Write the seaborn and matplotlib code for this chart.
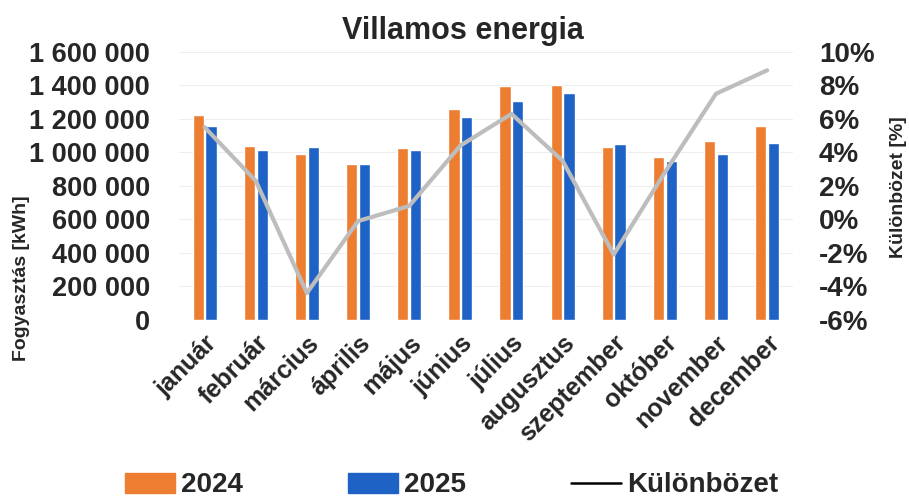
import numpy as np
import pandas as pd
import seaborn as sns
import matplotlib.pyplot as plt
from matplotlib.patches import Patch
from matplotlib.lines import Line2D
from matplotlib.ticker import FuncFormatter

# monthly consumption, kWh
months = ["január", "február", "március", "április", "május", "június",
          "július", "augusztus", "szeptember", "október", "november", "december"]
kwh_2024 = [1225000, 1040000, 990000, 930000, 1025000, 1260000,
            1395000, 1405000, 1030000, 975000, 1070000, 1160000]
kwh_2025 = [1155000, 1015000, 1035000, 930000, 1015000, 1210000,
            1305000, 1355000, 1050000, 950000, 990000, 1058000]
# difference line, %
diff_pct = [5.5, 2.3, -4.4, -0.1, 0.8, 4.4, 6.3, 3.5, -2.1, 2.8, 7.5, 8.9]

orange = "#ED7D31"
blue = "#1F62C6"
gray = "#BDBDBD"

sns.set_theme(style="white")
plt.rcParams['font.family'] = ['Liberation Sans', 'DejaVu Sans']

df = pd.DataFrame({
    "honap": months * 2,
    "kwh": kwh_2024 + kwh_2025,
    "ev": ["2024"] * 12 + ["2025"] * 12,
})

fig = plt.figure(figsize=(9.09, 4.99), dpi=100)
ax = fig.add_axes([0.197, 0.359, 0.675, 0.537])

sns.barplot(data=df, x="honap", y="kwh", hue="ev", palette=[orange, blue],
            width=0.5, gap=0.12, ax=ax, legend=False, saturation=1)
ax.set_ylim(0, 1600000)
ax.set_yticks(np.arange(0, 1600001, 200000))
ax.yaxis.set_major_formatter(FuncFormatter(lambda v, p: f"{int(v):,}".replace(",", " ")))
ax.grid(axis="y", color="#eeeeee", lw=0.8)
ax.set_axisbelow(True)
for s in ax.spines.values():
    s.set_visible(False)
ax.set_xlabel("")
ax.set_ylabel("")
ax.tick_params(axis="y", labelsize=19.5, pad=21, length=0)
ax.tick_params(axis="x", length=0, pad=8)
ax.set_xticks(range(len(months)))
ax.set_xticklabels(months, rotation=45, ha="right", rotation_mode="anchor",
                   fontsize=18, fontweight="bold")
for t in ax.get_yticklabels():
    t.set_fontweight("bold")

ax2 = ax.twinx()
sns.lineplot(x=np.arange(len(months)), y=diff_pct, color=gray, lw=3, ax=ax2, sort=False)
ax2.set_ylim(-6, 10)
ax2.set_yticks(np.arange(-6, 11, 2))
ax2.yaxis.set_major_formatter(FuncFormatter(lambda v, p: f"{int(v)}%"))
ax2.tick_params(axis="y", labelsize=20, pad=19, length=0)
for t in ax2.get_yticklabels():
    t.set_fontweight("bold")
ax2.set_ylabel("")
ax2.grid(False)
for s in ax2.spines.values():
    s.set_visible(False)
ax.set_xlim(-0.5, 11.5)

fig.text(0.509, 0.938, "Villamos energia", ha="center", va="center",
         fontsize=22, fontweight="bold")
fig.text(0.024, 0.443, "Fogyasztás [kWh]", rotation=90, ha="center", va="center",
         fontsize=14, fontweight="bold")
fig.text(0.988, 0.625, "Különbözet [%]", rotation=90, ha="center", va="center",
         fontsize=14, fontweight="bold")

handles = [Patch(color=orange), Patch(color=blue), Line2D([], [], color="black", lw=1.8)]
fig.legend(handles, ["2024", "2025", "Különbözet"], loc="lower left",
           bbox_to_anchor=(0.110, -0.049), ncol=3, frameon=False,
           prop={"family": ['Liberation Sans', 'DejaVu Sans'],
                 "weight": "bold", "size": 20},
           handlelength=1.8, handleheight=0.75, handletextpad=0.2, columnspacing=3.8)

fig.savefig("out.png", dpi=100)
